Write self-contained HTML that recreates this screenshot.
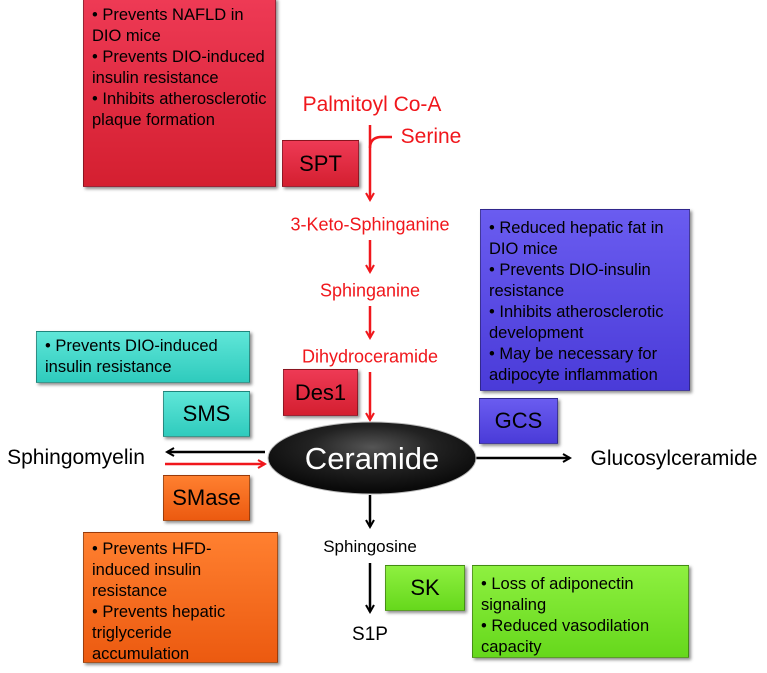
<!DOCTYPE html>
<html><head><meta charset="utf-8"><style>
body{margin:0;width:767px;height:673px;background:#fff;position:relative;overflow:hidden;font-family:"Liberation Sans",sans-serif}
.b{position:absolute;box-sizing:border-box;border:1px solid rgba(0,0,0,.35);box-shadow:2px 2px 3px rgba(0,0,0,.45);color:#000}
.t{padding:6px 8px;font-size:16.5px;line-height:21px}
.e{font-size:22px;display:flex;align-items:center;justify-content:center}
.red{background:linear-gradient(#ee3a55,#d41f30)}
.cy{background:linear-gradient(#5fe6d8,#2fcbbd)}
.pu{background:linear-gradient(#6a5cf0,#4a3bd8)}
.or{background:linear-gradient(#ff8030,#ec5a10)}
.gr{background:linear-gradient(#8ef040,#66d81c)}
.l{position:absolute;white-space:nowrap;transform:translate(-50%,-50%)}
.r{color:#f0171c}
</style></head><body>
<div class="b red t" style="left:83px;top:-2px;width:193px;height:189px">• Prevents NAFLD in DIO mice<br>• Prevents DIO-induced insulin resistance<br>• Inhibits atherosclerotic plaque formation</div>
<div class="b red e" style="left:282px;top:140px;width:77px;height:47px">SPT</div>
<div class="b red e" style="left:283px;top:369px;width:75px;height:47px">Des1</div>
<div class="b cy t" style="left:36px;top:331px;width:214px;height:52px;padding-top:4px">• Prevents DIO-induced insulin resistance</div>
<div class="b cy e" style="left:163px;top:391px;width:87px;height:46px">SMS</div>
<div class="b or e" style="left:163px;top:475px;width:87px;height:46px">SMase</div>
<div class="b pu t" style="left:480px;top:209px;width:210px;height:182px;padding-top:8px">• Reduced hepatic fat in DIO mice<br>• Prevents DIO-insulin resistance<br>• Inhibits atherosclerotic development<br>• May be necessary for adipocyte inflammation</div>
<div class="b pu e" style="left:479px;top:398px;width:79px;height:46px">GCS</div>
<div class="b or t" style="left:83px;top:532px;width:195px;height:131px">• Prevents HFD-induced insulin resistance<br>• Prevents hepatic triglyceride accumulation</div>
<div class="b gr e" style="left:385px;top:565px;width:80px;height:46px">SK</div>
<div class="b gr t" style="left:472px;top:565px;width:217px;height:93px;padding-top:8px">• Loss of adiponectin signaling<br>• Reduced vasodilation capacity</div>
<svg width="767" height="673" style="position:absolute;left:0;top:0">
<defs>
<marker id="ar" markerWidth="10" markerHeight="10" refX="8" refY="5" orient="auto" markerUnits="userSpaceOnUse"><path d="M1,1 L8,5 L1,9" fill="none" stroke="#f0171c" stroke-width="2"/></marker>
<marker id="ak" markerWidth="10" markerHeight="10" refX="8" refY="5" orient="auto" markerUnits="userSpaceOnUse"><path d="M1,1 L8,5 L1,9" fill="none" stroke="#000" stroke-width="2"/></marker>
<radialGradient id="eg" cx="50%" cy="35%" r="60%"><stop offset="0" stop-color="#555"/><stop offset=".5" stop-color="#222"/><stop offset="1" stop-color="#0a0a0a"/></radialGradient>
</defs>
<g stroke="#f0171c" stroke-width="2.5" fill="none">
<path d="M370,125 L370,200" marker-end="url(#ar)"/>
<path d="M370,148 Q370,138 380,137 L392,137"/>
<path d="M370,240 L370,272" marker-end="url(#ar)"/>
<path d="M370,306 L370,338" marker-end="url(#ar)"/>
<path d="M370,372 L370,420" marker-end="url(#ar)"/>
<path d="M165,464 L265,464" marker-end="url(#ar)"/>
</g>
<g stroke="#000" stroke-width="2.5" fill="none">
<path d="M265,452 L167,452" marker-end="url(#ak)"/>
<path d="M476,458 L570,458" marker-end="url(#ak)"/>
<path d="M370,495 L370,527" marker-end="url(#ak)"/>
<path d="M370,563 L370,612" marker-end="url(#ak)"/>
</g>
<ellipse cx="372" cy="458" rx="104" ry="36" fill="url(#eg)" stroke="#bbb" stroke-width="1"/>
</svg>
<div class="l" style="left:372px;top:459px;color:#fff;font-size:31px">Ceramide</div>
<div class="l r" style="left:372px;top:105px;font-size:21px">Palmitoyl Co-A</div>
<div class="l r" style="left:431px;top:137px;font-size:21px">Serine</div>
<div class="l r" style="left:370px;top:225px;font-size:18px">3-Keto-Sphinganine</div>
<div class="l r" style="left:370px;top:291px;font-size:18px">Sphinganine</div>
<div class="l r" style="left:370px;top:357px;font-size:18px">Dihydroceramide</div>
<div class="l" style="left:76px;top:458px;font-size:21px">Sphingomyelin</div>
<div class="l" style="left:674px;top:459px;font-size:21px">Glucosylceramide</div>
<div class="l" style="left:370px;top:547px;font-size:17px">Sphingosine</div>
<div class="l" style="left:370px;top:635px;font-size:19px">S1P</div>
</body></html>
